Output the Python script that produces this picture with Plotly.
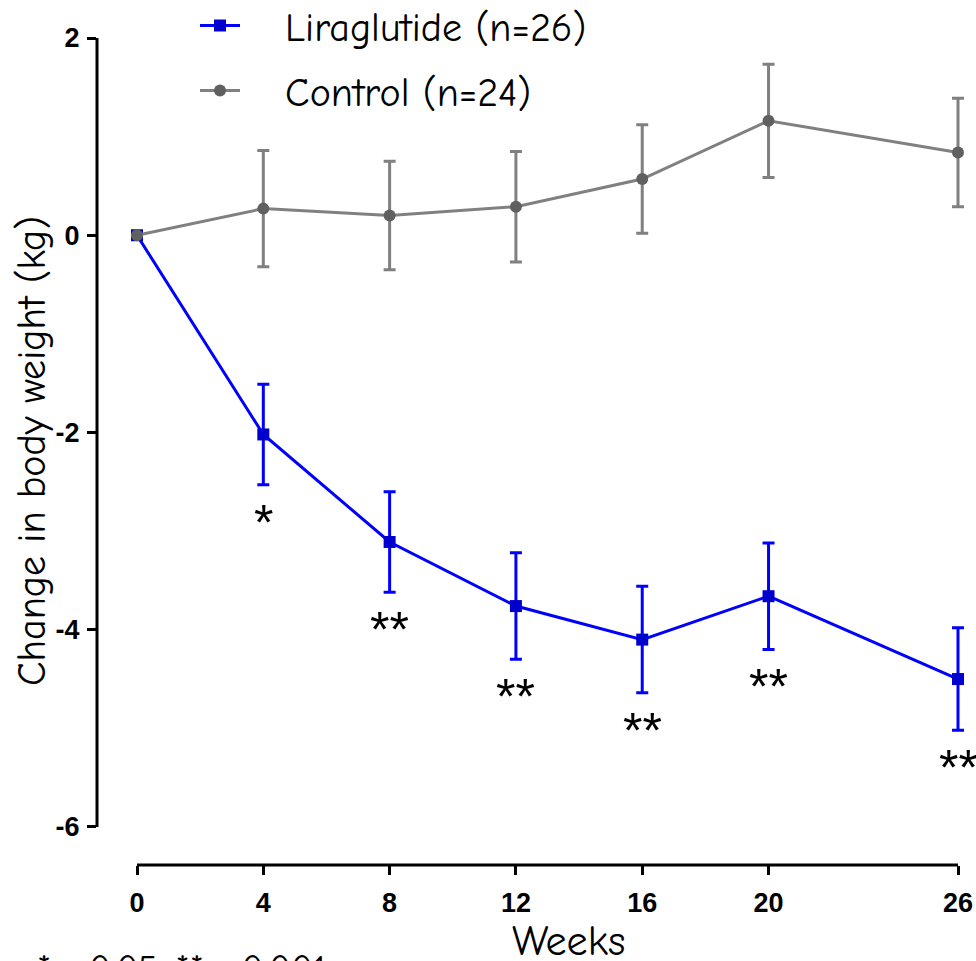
import plotly.graph_objects as go

# Study weeks and mean change in body weight (kg) with SEM
weeks = [0, 4, 8, 12, 16, 20, 26]

lira_mean = [0.0, -2.02, -3.11, -3.76, -4.10, -3.66, -4.50]
lira_sem = [0.0, 0.51, 0.51, 0.54, 0.54, 0.54, 0.52]

ctrl_mean = [0.0, 0.27, 0.20, 0.29, 0.57, 1.16, 0.84]
ctrl_sem = [0.0, 0.59, 0.55, 0.56, 0.55, 0.575, 0.55]

# Significance markers for liraglutide vs control
sig_labels = ["", "*", "**", "**", "**", "**", "**"]

y_ticks = [2, 0, -2, -4, -6]
y_ticktext = ["2", "0", "-2", "-4", "-6"]

TEXT_FONT = "Comic Sans MS, Comic Neue, Open Sans, sans-serif"
TICK_FONT = "Liberation Sans, Arial, sans-serif"

# pixel geometry of the plotting region
PX_PER_WEEK = 821 / 26
PX_PER_KG = 98.6
PLOT_TOP, PLOT_BOTTOM, PLOT_LEFT, PLOT_W = 20, 865, 97, 879
PLOT_H = PLOT_BOTTOM - PLOT_TOP


def py(pixel_y):
    return (PLOT_BOTTOM - pixel_y) / PLOT_H


def px(pixel_x):
    return (pixel_x - PLOT_LEFT) / PLOT_W


fig = go.Figure()

fig.add_trace(go.Scatter(
    x=weeks, y=lira_mean,
    name="&nbsp;&nbsp;&nbsp;Liraglutide (n=26)",
    mode="lines+markers",
    line=dict(color="#0000ff", width=3),
    marker=dict(symbol="square", size=12, color="#0000cc"),
    error_y=dict(type="data", array=lira_sem, color="#0000ff",
                 thickness=3, width=6),
    cliponaxis=False,
    legendgroup="a",
))

fig.add_trace(go.Scatter(
    x=weeks, y=ctrl_mean,
    name="&nbsp;&nbsp;&nbsp;Control (n=24)",
    mode="lines+markers",
    line=dict(color="#808080", width=3),
    marker=dict(symbol="circle", size=12, color="#606060"),
    error_y=dict(type="data", array=ctrl_sem, color="#808080",
                 thickness=3, width=6),
    cliponaxis=False,
    legendgroup="b",
))

# Asterisks under the liraglutide error bars
for wk, m, s, lab in zip(weeks, lira_mean, lira_sem, sig_labels):
    if lab:
        fig.add_annotation(
            x=wk, y=m - s, text=lab, showarrow=False,
            yanchor="middle", yshift=-38,
            font=dict(family=TICK_FONT, size=50, color="black"),
        )

# GraphPad-style offset axes: lines only span the data range
fig.add_shape(type="line", xref="x", yref="paper", x0=0, x1=26, y0=0, y1=0,
              line=dict(color="black", width=3), layer="above")
fig.add_shape(type="line", xref="paper", yref="y", x0=0, x1=0, y0=-6, y1=2,
              line=dict(color="black", width=3), layer="above")

# axis titles
fig.add_annotation(
    text="Weeks", showarrow=False,
    xref="paper", yref="paper", x=px(568), y=py(941),
    xanchor="center", yanchor="middle",
    font=dict(family=TEXT_FONT, size=42, color="black"),
)
fig.add_annotation(
    text="Change in body weight (kg)", showarrow=False, textangle=-90,
    xref="paper", yref="paper", x=px(32), y=py(451),
    xanchor="center", yanchor="middle",
    font=dict(family=TEXT_FONT, size=40, color="black"),
)

# footnote
fig.add_annotation(
    text="*p<0.05, **p<0.001", showarrow=False,
    xref="paper", yref="paper", x=px(35), y=py(946),
    xanchor="left", yanchor="top",
    font=dict(family=TEXT_FONT, size=36, color="black"),
)

fig.update_layout(
    width=976, height=961,
    margin=dict(l=PLOT_LEFT, r=0, t=PLOT_TOP, b=961 - PLOT_BOTTOM,
                autoexpand=False),
    plot_bgcolor="white", paper_bgcolor="white",
    showlegend=True,
    legend=dict(
        x=px(195), y=py(-7), xanchor="left", yanchor="top",
        font=dict(family=TEXT_FONT, size=40, color="black"),
        bgcolor="rgba(0,0,0,0)", tracegroupgap=10, itemwidth=40,
    ),
    xaxis=dict(
        range=[-40 / PX_PER_WEEK, 26 + 18 / PX_PER_WEEK],
        tickvals=weeks, ticktext=[str(w) for w in weeks],
        ticks="outside", ticklen=9, tickwidth=3, tickcolor="black",
        showline=False, showgrid=False, zeroline=False,
        tickfont=dict(family=TICK_FONT, size=27, color="black", weight="bold"),
        ticklabelstandoff=5,
    ),
    yaxis=dict(
        range=[-6 - 38 / PX_PER_KG, 2 + 18 / PX_PER_KG],
        tickvals=y_ticks, ticktext=y_ticktext,
        ticks="outside", ticklen=9, tickwidth=3, tickcolor="black",
        showline=False, showgrid=False, zeroline=False,
        tickfont=dict(family=TICK_FONT, size=27, color="black", weight="bold"),
        ticklabelstandoff=2,
    ),
)

fig.write_html("out.html")
